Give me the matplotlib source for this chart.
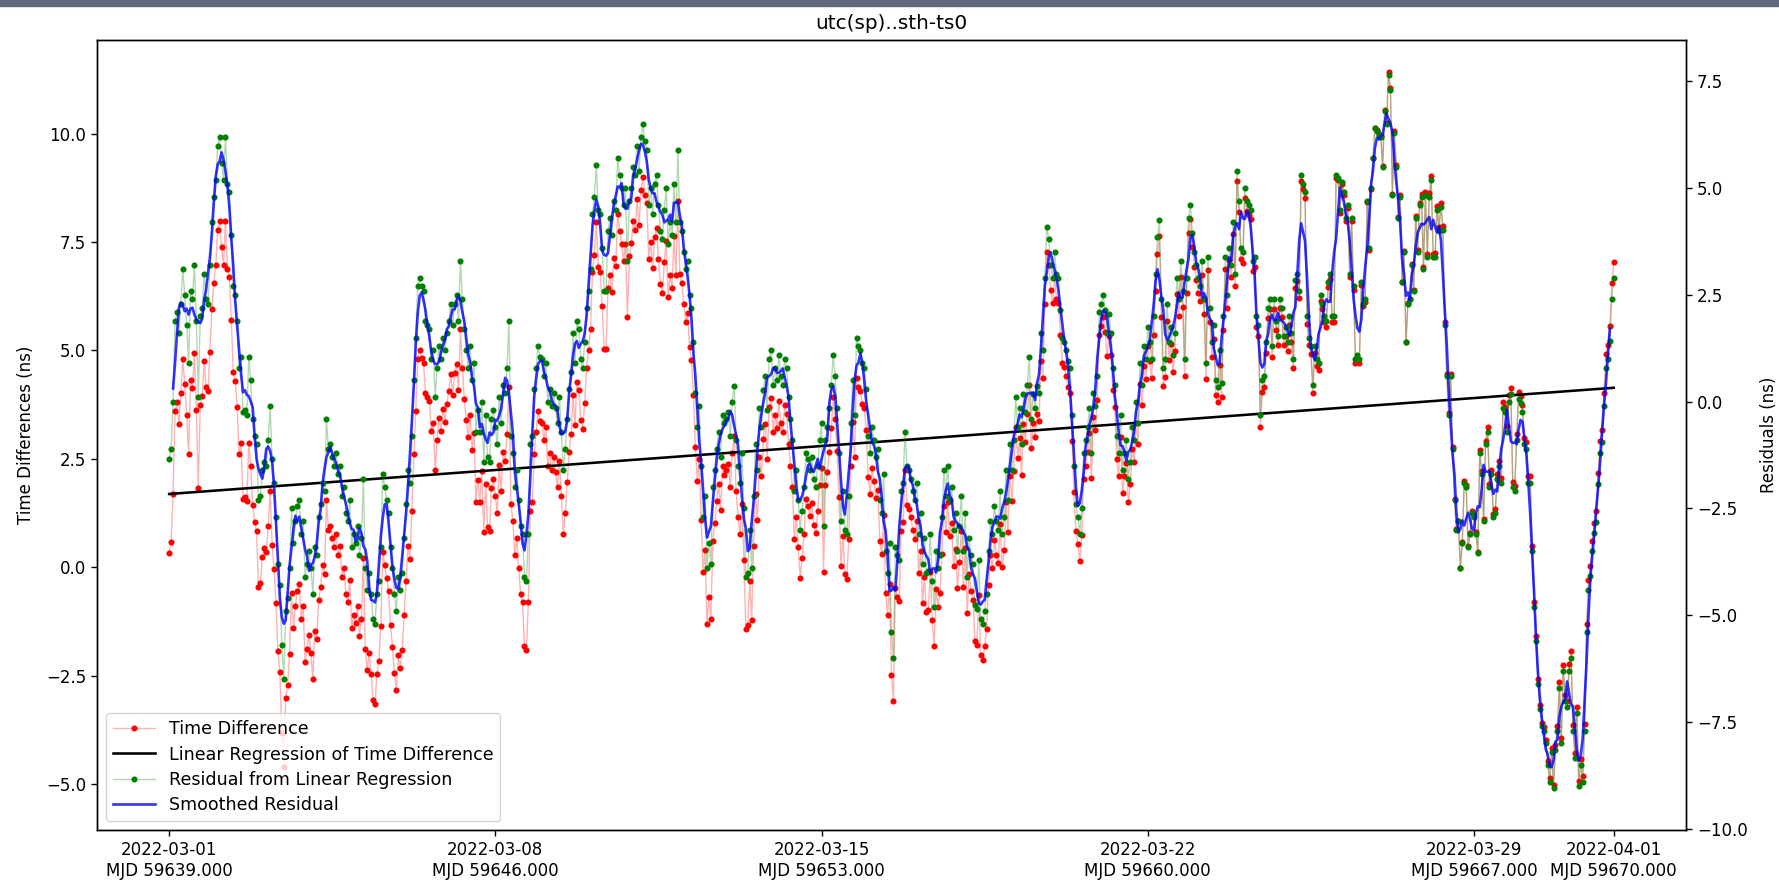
import numpy as np
import pandas as pd
import matplotlib
matplotlib.use('Agg')
import matplotlib.pyplot as plt
from matplotlib.patches import Rectangle
from datetime import datetime, timedelta

# hourly samples starting at MJD 59639 (2022-03-01 00:00)
mjd_start = 59639
step_hours = 1

# linear regression of the time difference, read at first and last sample (ns)
fit_first_ns = 1.69
fit_last_ns = 4.14

# residual from the linear regression (ns), one week per list
resid_w1 = [
    -1.35, -1.1, 0.0, 1.9, 2.1, 1.6, 2.3, 3.1, 2.5, 1.8, 0.9, 2.6, 2.4, 3.2, 1.9, 0.1, 2.0, 2.2, 3.0, 2.4, 2.3, 3.2, 4.2, 4.8,
    5.2, 6.0, 6.2, 5.6, 5.2, 6.2, 5.1, 4.9, 3.9, 2.7, 2.5, 1.9, 0.8, 1.05, -0.25, -0.2, -0.3, 1.05, 0.5, -0.4, -0.8, -1.0, -2.3, -2.2,
    -1.6, -1.4, -1.5, -0.9, -0.1, -1.35, -1.9, -2.7, -3.8, -4.3, -5.7, -6.5, -4.9, -4.6, -3.9, -2.5, -3.3, -2.8, -2.45, -2.3, -3.1, -2.8, -4.1, -3.8,
    -3.5, -3.9, -4.5, -3.4, -3.6, -2.7, -2.4, -1.9, -2.1, -0.4, -1.1, -1.0, -1.3, -1.5, -1.2, -1.7, -1.5, -2.2, -2.0, -2.6, -2.8, -2.3, -3.4, -3.1,
    -3.3, -2.9, -3.6, -3.2, -1.8, -3.9, -4.4, -4.0, -4.5, -5.1, -5.2, -4.5, -4.2, -3.4, -1.7, -2.0, -2.3, -2.6, -3.4, -3.9, -4.5, -4.9, -4.1, -4.4,
    -4.0, -3.2, -2.4, -1.6, -1.9, -0.8, 0.5, 1.5, 2.7, 2.9, 2.7, 2.6, 1.9, 1.8, 1.7, 1.0, 1.2, 0.1, 0.8, 1.3, 1.0, 1.5, 1.2, 1.6,
    1.9, 2.3, 1.8, 2.3, 2.5, 1.9, 3.3, 2.4, 1.7, 1.2, 0.8, 1.3, 0.5, 0.9, -0.7, -0.2, -0.7, 0.0, -1.4, -0.3, -1.3, -1.4, -0.4, -0.2,
]
resid_w2 = [
    -0.6, -1.0, 0.1, -0.5, 0.4, 0.2, 0.8, 1.9, -0.8, -1.2, -2.0, -1.6, -2.3, -2.9, -3.1, -4.1, -4.2, -3.1, -1.0, -0.8, 0.3, 0.8, 1.3, 1.05,
    1.0, 0.6, 0.9, 0.0, 0.3, -0.1, 0.2, -0.15, -0.5, 0.1, -0.7, -1.6, -1.1, -0.4, 0.3, 0.7, 1.6, 0.9, 1.9, 1.7, 1.0, 0.8, 1.4, 2.2,
    2.6, 3.1, 4.4, 4.8, 5.55, 4.5, 4.4, 3.6, 2.6, 2.6, 4.0, 4.3, 3.9, 4.7, 4.5, 5.7, 5.3, 5.0, 4.6, 5.0, 3.3, 4.7, 5.0, 5.5,
    5.3, 6.0, 5.4, 6.2, 6.5, 6.1, 5.9, 4.6, 5.0, 4.4, 5.1, 5.3, 4.6, 4.0, 3.8, 4.5, 5.0, 3.7, 4.2, 3.9, 5.1, 4.2, 5.9, 4.2,
    4.0, 3.5, 3.1, 3.3, 2.5, 2.2, 1.4, 0.2, -0.6, -0.1, -1.5, -2.7, -2.2, -3.9, -3.3, -3.8, -2.0, -1.6, -1.1, -0.7, -1.3, -0.3, -0.5, -0.4,
    -0.25, -0.8, 0.0, 0.37, -0.9, -1.5, -1.9, -1.2, -2.5, -4.1, -4.0, -3.0, -3.9, -2.2, -1.0, -1.6, -0.15, -0.6, 0.27, 0.6, -0.2, 1.0, 1.2, 0.4,
    0.8, 0.5, 1.1, 0.6, 0.4, 1.0, 0.8, 0.1, -0.4, -0.9, -2.1, -1.6, -2.3, -3.0, -2.55, -2.0, -1.2, -1.35, -1.6, -1.3, -1.8, -2.0, -1.5, -0.9,
]
resid_w3 = [
    -0.5, -2.9, -0.9, -0.6, -0.15, 0.4, 1.1, 0.6, -0.15, -1.2, -2.8, -2.1, -3.0, -3.1, -2.2, -0.5, 0.5, -0.3, 1.5, 1.3, 1.2, 0.9, 0.8, 0.3,
    -0.8, -1.2, -0.6, -0.9, -1.3, -1.1, -2.3, -2.6, -1.7, -3.5, -4.0, -3.3, -5.4, -6.0, -3.4, -3.6, -3.7, -2.1, -1.9, -0.7, -1.5, -1.6, -1.8, -2.1,
    -2.3, -1.9, -3.1, -2.6, -3.8, -3.2, -4.0, -3.97, -3.1, -4.2, -4.8, -3.5, -3.9, -3.6, -2.7, -1.6, -2.2, -1.5, -2.3, -2.0, -3.0, -2.6, -3.5, -2.9,
    -2.2, -3.5, -2.6, -4.1, -3.2, -3.6, -3.8, -4.75, -4.85, -3.7, -5.1, -5.2, -4.9, -4.5, -3.5, -2.8, -3.1, -2.45, -2.8, -3.0, -2.1, -3.1, -2.7, -1.6,
    -2.3, -1.0, -1.6, -0.9, 0.1, -0.6, -0.15, -1.0, 0.17, -0.25, 0.4, 1.05, -0.4, 0.17, -0.15, 0.37, 0.2, 1.6, 1.2, 2.9, 4.1, 3.8, 3.2, 2.9,
    3.5, 3.0, 2.9, 2.15, 1.5, 1.4, 1.2, 0.95, 0.8, -0.3, -1.5, -2.4, -2.7, -3.1, -2.5, -1.2, -0.9, -0.6, -0.15, -1.2, 0.2, -0.1, 0.6, 2.1,
    2.3, 2.5, 2.15, 1.6, 2.05, 1.6, 0.8, 0.4, -0.8, -1.2, -0.3, -1.6, -1.2, -0.9, -1.8, -1.4, -0.6, -0.9, 0.0, -0.5, 0.9, 0.4, 1.3, 1.0,
]
resid_w4 = [
    1.75, 1.4, 1.0, 2.0, 3.0, 3.85, 4.26, 2.4, 0.8, 1.0, 2.3, 1.4, 1.75, 1.1, 1.6, 2.9, 2.4, 3.3, 2.6, 1.0, 2.9, 4.3, 4.6, 3.95,
    3.5, 3.2, 2.9, 2.7, 3.3, 2.4, 0.9, 3.4, 2.2, 1.4, 1.8, 0.5, 0.35, 1.2, 0.45, 2.0, 3.4, 2.5, 3.6, 3.2, 4.2, 3.0, 5.4, 4.7,
    3.6, 3.5, 5.0, 4.7, 4.6, 4.5, 3.3, 3.4, 2.0, 1.8, -0.3, 0.5, 0.6, 1.4, 2.2, 2.4, 1.3, 2.4, 1.9, 1.55, 2.4, 2.2, 1.55, 1.75,
    1.4, 2.0, 1.6, 1.0, 2.85, 3.0, 2.6, 5.3, 5.1, 4.9, 2.0, 1.5, 1.3, 0.4, 1.3, 1.0, 0.9, 2.5, 2.3, 2.0, 1.9, 2.8, 3.0, 2.0,
    2.0, 5.3, 5.25, 4.5, 5.15, 4.9, 4.3, 4.6, 3.0, 4.3, 2.7, 1.0, 1.1, 1.0, 2.8, 2.3, 2.4, 4.7, 3.6, 5.0, 5.7, 6.4, 6.35, 6.25,
    6.2, 5.5, 6.8, 6.5, 7.66, 7.3, 4.84, 6.3, 5.5, 4.3, 4.8, 2.8, 3.5, 1.4, 2.3, 2.4, 3.2, 2.6, 4.3, 3.5, 4.6, 4.8, 3.1, 4.84,
    3.4, 4.8, 5.2, 3.4, 3.4, 4.5, 4.0, 4.56, 4.03, 1.8, 0.6, -0.3, 0.6, -1.1, -2.3, -3.0, -2.8, -3.9, -3.3, -1.9, -2.0, -3.4, -3.1, -2.6,
]
resid_w5 = [
    -2.7, -3.1, -3.55, -1.2, -1.7, -2.8, -1.0, -0.7, -2.0, -1.7, -2.7, -2.6, -1.8, -1.5, -1.9, -0.15, -0.25, -0.7, 0.0, 0.17, -2.0, -2.1, -0.9, 0.06,
    -0.04, -0.25, -1.0, -1.1, -1.9, -1.9, -3.5, -4.8, -5.6, -6.6, -7.2, -7.6, -7.7, -8.0, -8.5, -8.9, -8.2, -9.05, -8.15, -7.7, -6.7, -8.0, -6.3, -7.0,
    -7.15, -6.3, -6.0, -7.7, -8.35, -7.3, -9.0, -8.5, -8.9, -7.7, -5.4, -4.4, -4.07, -3.5, -3.08, -2.81, -1.93, -1.2, -0.95, -0.1, 0.79, 1.0, 1.42, 2.41,
    2.9,
]

tick_mjd = [59639, 59646, 59653, 59660, 59667, 59670]

resid = np.array(resid_w1 + resid_w2 + resid_w3 + resid_w4 + resid_w5)
mjd = mjd_start + np.arange(len(resid)) * step_hours / 24.0
frac = (mjd - mjd[0]) / (mjd[-1] - mjd[0])
fit = fit_first_ns + (fit_last_ns - fit_first_ns) * frac
time_diff = fit + resid
smooth = pd.Series(resid).rolling(5, center=True).mean()


def mjd_label(m):
    d = datetime(1858, 11, 17) + timedelta(days=m)
    return d.strftime('%Y-%m-%d') + '\nMJD %.3f' % m


plt.rcParams['font.size'] = 12

fig = plt.figure(figsize=(17.79, 8.8), dpi=100)
ax1 = fig.add_axes([0.0545, 0.0568, 0.8932, 0.8977])
ax2 = ax1.twinx()

l1, = ax1.plot(mjd, time_diff, color=(1, 0, 0, 0.3), lw=1.0, marker='o', ms=4.4,
               mfc='red', mec='red', mew=0, label='Time Difference')
l2, = ax1.plot(mjd, fit, color='black', lw=1.85, label='Linear Regression of Time Difference')
l3, = ax2.plot(mjd, resid, color=(0, 0.5, 0, 0.3), lw=1.0, marker='o', ms=4.4,
               mfc='green', mec='green', mew=0, label='Residual from Linear Regression')
l4, = ax2.plot(mjd, smooth, color='blue', lw=1.9, alpha=0.8, label='Smoothed Residual')

ax1.set_ylim(-6.06, 12.16)
ax2.set_ylim(-10.03, 8.47)
ax1.set_xticks(tick_mjd)
ax1.set_xticklabels([mjd_label(m) for m in tick_mjd])

ax1.set_ylabel('Time Differences (ns)', labelpad=8)
ax2.set_ylabel('Residuals (ns)', labelpad=9)
ax1.set_title('utc(sp)..sth-ts0', pad=8)

ax2.legend(handles=[l1, l2, l3, l4], loc='lower left', fontsize=12.6,
           labelspacing=0.42, handlelength=2.4)

for ax in (ax1, ax2):
    ax.tick_params(length=4.3, width=1)
    for s in ax.spines.values():
        s.set_linewidth(1)

fig.add_artist(Rectangle((0, 1 - 6 / 880), 1, 6 / 880, transform=fig.transFigure,
                         color='#62677a', zorder=10))

fig.savefig('out.png', dpi=100)
